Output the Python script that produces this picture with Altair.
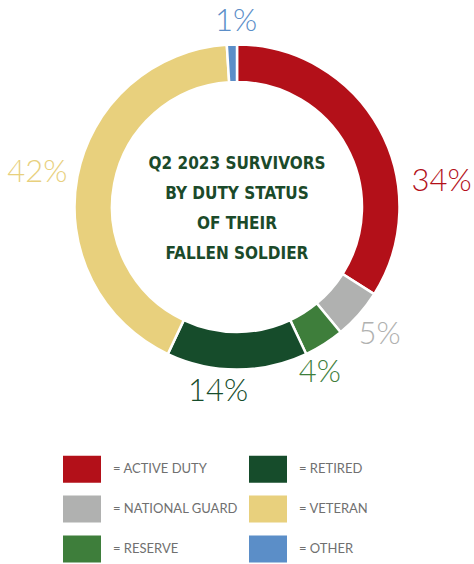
import math
import altair as alt
import pandas as pd

# ---- data ----
categories = ["Active Duty", "National Guard", "Reserve", "Retired", "Veteran", "Other"]
values = [34, 5, 4, 14, 42, 1]
colors = ["#B31019", "#B0B1B0", "#3E7E3B", "#164C2B", "#E8D07D", "#5B8EC8"]
title_lines = ["Q2 2023 SURVIVORS", "BY DUTY STATUS", "OF THEIR", "FALLEN SOLDIER"]

# label nudges (styling only)
nudges = {
    "Active Duty": (38, 67),
    "National Guard": (0, 2),
    "Reserve": (-19, 6),
    "Retired": (-19, -5),
    "Veteran": (-13, 2),
    "Other": (5, 5),
}

df = pd.DataFrame({"category": categories, "value": values, "idx": list(range(len(categories)))})

CX, CY = 237, 207
theta_scale = alt.Scale(domain=[0, 100], range=[0, 2 * math.pi])
color_scale = alt.Scale(domain=categories, range=colors)

base = (
    alt.Chart(df)
    .transform_window(cum="sum(value)", sort=[alt.SortField("idx")], frame=[None, 0])
    .transform_calculate(
        start="datum.cum - datum.value",
        mid="datum.cum - datum.value / 2",
        label="datum.value + '%'",
    )
)

arcs = base.mark_arc(outerRadius=162.5, innerRadius=125, stroke="white", strokeWidth=2.5).encode(
    theta=alt.Theta("start:Q", scale=theta_scale),
    theta2="cum:Q",
    x=alt.value(CX),
    y=alt.value(CY),
    color=alt.Color(
        "category:N",
        scale=color_scale,
        legend=alt.Legend(
            orient="none",
            legendX=63,
            legendY=450,
            columns=2,
            title=None,
            padding=0,
            symbolType="M-1,-0.71H1V0.71H-1Z",
            symbolSize=1444,
            symbolStrokeWidth=0,
            symbolOpacity=1,
            labelExpr="'= ' + upper(datum.label)",
            labelFont="Lato",
            labelFontSize=13,
            labelColor="#707070",
            labelOffset=12,
            columnPadding=11,
            rowPadding=7,
        ),
    ),
)

layers = [arcs]
for cat in categories:
    dx, dy = nudges[cat]
    t = base.transform_filter(alt.datum.category == cat).mark_text(
        radius=190, font="Lato", fontWeight=300, fontSize=31, dx=dx, dy=dy,
        align="center", baseline="middle",
    ).encode(
        theta=alt.Theta("mid:Q", scale=theta_scale),
        x=alt.value(CX),
        y=alt.value(CY),
        text="label:N",
        color=alt.Color("category:N", scale=color_scale, legend=None),
    )
    layers.append(t)

title = alt.Chart(pd.DataFrame({"k": [0]})).mark_text(
    font="DejaVu Sans Condensed",
    fontWeight="bold",
    fontSize=17,
    lineHeight=30,
    color="#1B4A2A",
    align="center",
    baseline="middle",
).encode(x=alt.value(CX), y=alt.value(CY - 43), text=alt.value(title_lines))
layers.append(title)

chart = (
    alt.layer(*layers)
    .properties(width=474, height=564, autosize=alt.AutoSizeParams(type="none"), padding=0, background="white")
    .configure_view(stroke=None)
)

chart.save("out.html", embed_options={"renderer": "svg", "actions": False})
